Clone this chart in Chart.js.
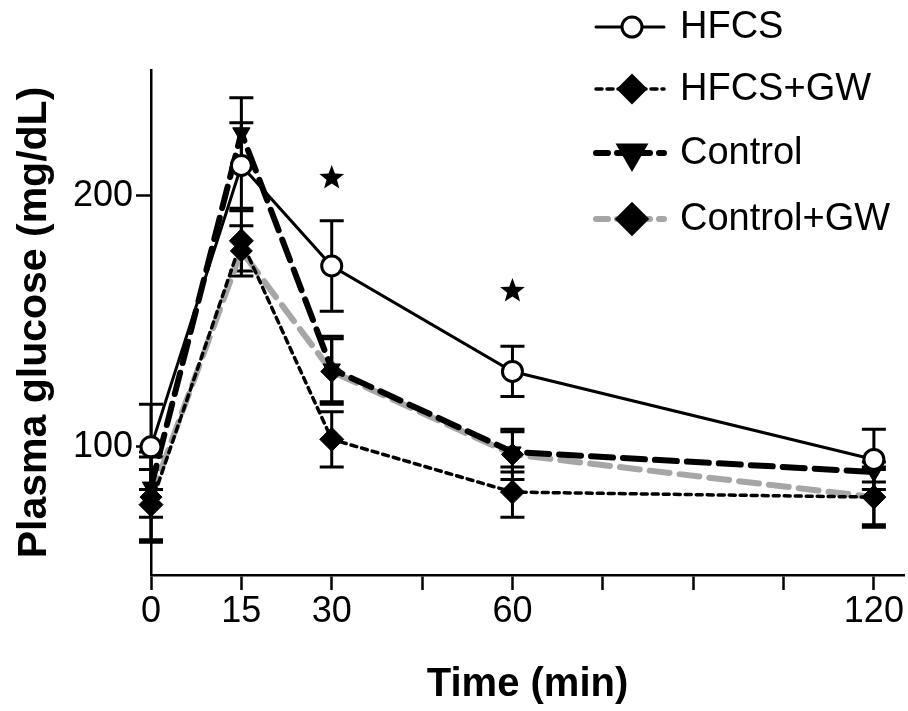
<!DOCTYPE html>
<html>
<head>
<meta charset="utf-8">
<title>Plasma glucose</title>
<script src="https://cdn.jsdelivr.net/npm/chart.js@4.4.0/dist/chart.umd.min.js"></script>
<style>
    body { margin: 0; background: #fff; }
    canvas { display: block; }
</style>
</head>
<body>
<canvas id="glucoseChart" width="908" height="711"></canvas>
<script>
const times = [0, 15, 30, 60, 120];
const seriesNames = ['HFCS', 'HFCS+GW', 'Control', 'Control+GW'];

const hfcs = [100, 212, 172, 130, 95];
const hfcsErr = [17, 17, 18, 10, 12];
const hfcsGw = [77, 182, 103, 82, 80];
const hfcsGwErr = [14, 12, 11, 10, 12];
const control = [84, 225, 131, 98, 90];
const controlErr = [12, 14, 13, 8, 4];
const controlGw = [80, 178, 130, 97, 80];
const controlGwErr = [18, 10, 13, 10, 11];

const starTimes = [30, 60];
const starValues = [207, 162];

const xTicks = [0, 15, 30, 45, 60, 75, 90, 105, 120];
const xLabels = [0, 15, 30, 60, 120];
const yTicks = [100, 200];

const FONT = "'Liberation Sans', Arial, Helvetica, sans-serif";
Chart.defaults.font.family = FONT;
Chart.defaults.color = '#000';

const styles = [
    { line: '#000', width: 3, dash: [], point: 'circle', rotation: 0, radius: 10, fill: '#fff', border: 3 },
    { line: '#000', width: 3.5, dash: [6, 5], point: 'rectRot', rotation: 0, radius: 12, fill: '#000', border: 1 },
    { line: '#000', width: 6, dash: [22, 10], point: 'triangle', rotation: 180, radius: 10, fill: '#000', border: 1 },
    { line: '#a6a6a6', width: 6, dash: [20, 10], point: 'rectRot', rotation: 0, radius: 11, fill: '#000', border: 1 }
];

const values = [hfcs, hfcsGw, control, controlGw];
const errors = [hfcsErr, hfcsGwErr, controlErr, controlGwErr];

const datasets = seriesNames.map((name, i) => ({
    label: name,
    data: times.map((t, j) => ({ x: t, y: values[i][j] })),
    borderColor: styles[i].line,
    borderWidth: styles[i].width,
    borderDash: styles[i].dash,
    borderCapStyle: 'round',
    tension: 0,
    fill: false,
    clip: false,
    pointStyle: styles[i].point,
    pointRotation: styles[i].rotation,
    pointRadius: styles[i].radius,
    pointBackgroundColor: styles[i].fill,
    pointBorderColor: '#000',
    pointBorderWidth: styles[i].border
}));

// error bars under the series
const errorBars = {
    id: 'errorBars',
    beforeDatasetsDraw(chart) {
        const ctx = chart.ctx;
        const xs = chart.scales.x;
        const ys = chart.scales.y;
        ctx.save();
        ctx.strokeStyle = '#000';
        ctx.lineWidth = 3;
        ctx.setLineDash([]);
        values.forEach((series, i) => {
            series.forEach((v, j) => {
                const x = xs.getPixelForValue(times[j]);
                const top = ys.getPixelForValue(v + errors[i][j]);
                const bottom = ys.getPixelForValue(v - errors[i][j]);
                ctx.beginPath();
                ctx.moveTo(x, top);
                ctx.lineTo(x, bottom);
                ctx.moveTo(x - 12, top);
                ctx.lineTo(x + 12, top);
                ctx.moveTo(x - 12, bottom);
                ctx.lineTo(x + 12, bottom);
                ctx.stroke();
            });
        });
        ctx.restore();
    }
};

const stars = {
    id: 'stars',
    afterDatasetsDraw(chart) {
        const ctx = chart.ctx;
        ctx.save();
        ctx.fillStyle = '#000';
        starTimes.forEach((t, k) => {
            const cx = chart.scales.x.getPixelForValue(t);
            const cy = chart.scales.y.getPixelForValue(starValues[k]);
            ctx.beginPath();
            for (let p = 0; p < 10; p++) {
                const r = p % 2 === 0 ? 13 : 5.5;
                const a = -Math.PI / 2 + p * Math.PI / 5;
                const px = cx + r * Math.cos(a);
                const py = cy + r * Math.sin(a);
                if (p === 0) ctx.moveTo(px, py); else ctx.lineTo(px, py);
            }
            ctx.closePath();
            ctx.fill();
        });
        ctx.restore();
    }
};

const legendRows = [27, 89, 153, 219];

const sideLegend = {
    id: 'sideLegend',
    afterDraw(chart) {
        const ctx = chart.ctx;
        ctx.save();
        seriesNames.forEach((name, i) => {
            const y = legendRows[i];
            const s = styles[i];
            ctx.strokeStyle = s.line;
            ctx.lineWidth = s.width;
            ctx.lineCap = 'round';
            ctx.setLineDash(i === 1 ? [6, 5] : (i === 0 ? [] : [12, 9]));
            ctx.beginPath();
            ctx.moveTo(596, y);
            ctx.lineTo(664, y);
            ctx.stroke();

            ctx.setLineDash([]);
            ctx.fillStyle = s.fill;
            ctx.strokeStyle = '#000';
            Chart.helpers.drawPoint(ctx, {
                pointStyle: s.point,
                rotation: s.rotation,
                radius: s.point === 'circle' ? 10 : 13,
                borderWidth: s.border
            }, 632, y);

            ctx.fillStyle = '#000';
            ctx.font = '38px ' + FONT;
            ctx.textBaseline = 'middle';
            ctx.fillText(name, 680, y + 1);
        });
        ctx.restore();
    }
};

new Chart(document.getElementById('glucoseChart'), {
    type: 'line',
    data: { datasets },
    plugins: [errorBars, stars, sideLegend],
    options: {
        responsive: false,
        animation: false,
        layout: {
            autoPadding: false,
            padding: { top: 70, right: 4, left: 0, bottom: 0 }
        },
        plugins: {
            legend: { display: false },
            tooltip: { enabled: false }
        },
        scales: {
            x: {
                type: 'linear',
                min: 0,
                max: 125,
                afterBuildTicks: (scale) => {
                    scale.ticks = xTicks.map((v) => ({ value: v }));
                },
                afterFit: (scale) => {
                    scale.height = 136;
                    scale.paddingLeft = 0;
                    scale.paddingRight = 0;
                },
                ticks: {
                    autoSkip: false,
                    maxRotation: 0,
                    padding: 0,
                    font: { size: 36 },
                    callback: (v) => (xLabels.includes(v) ? String(v) : '')
                },
                grid: {
                    drawOnChartArea: false,
                    tickLength: 15,
                    tickWidth: 2.5,
                    color: '#000'
                },
                border: { color: '#000', width: 2.5 },
                title: {
                    display: true,
                    text: 'Time (min)',
                    font: { size: 40, weight: 'bold' },
                    padding: { top: 0, bottom: 2 }
                }
            },
            y: {
                type: 'linear',
                min: 49,
                max: 250,
                afterBuildTicks: (scale) => {
                    scale.ticks = yTicks.map((v) => ({ value: v }));
                },
                afterFit: (scale) => {
                    scale.width = 151;
                },
                ticks: {
                    padding: 3,
                    font: { size: 36 }
                },
                grid: {
                    drawOnChartArea: false,
                    tickLength: 15,
                    tickWidth: 2.5,
                    color: '#000'
                },
                border: { color: '#000', width: 2.5 },
                title: {
                    display: true,
                    text: 'Plasma glucose (mg/dL)',
                    font: { size: 41, weight: 'bold' },
                    padding: { top: 10, bottom: 0 }
                }
            }
        }
    }
});
</script>
</body>
</html>
